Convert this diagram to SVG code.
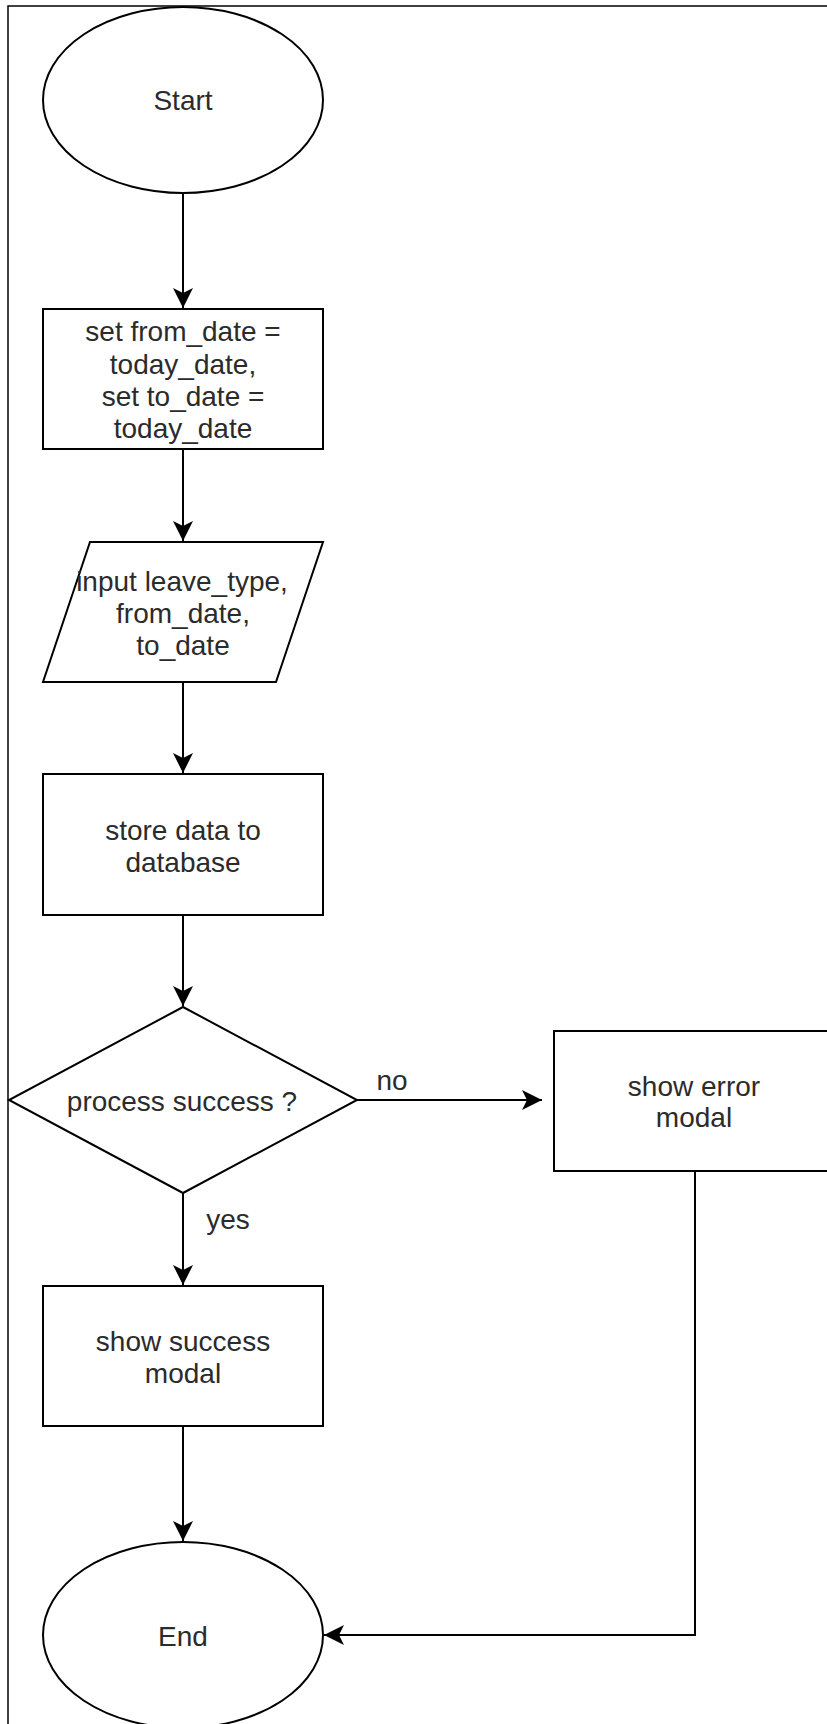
<svg xmlns="http://www.w3.org/2000/svg" width="827" height="1724" viewBox="0 0 827 1724">
  <style>
    .shape { fill: #ffffff; stroke: #000000; stroke-width: 2; }
    .edge { fill: none; stroke: #000000; stroke-width: 2; }
    .label { font-family: "Liberation Sans", Arial, sans-serif; font-size: 28px; fill: #2b2b2b; text-anchor: middle; }
  </style>
  <defs>
    <marker id="arrow" viewBox="0 0 20 20" refX="20" refY="10" markerWidth="20" markerHeight="20" markerUnits="userSpaceOnUse" orient="auto">
      <path d="M0,0 L20,10 L0,20 L5,10 Z" fill="#000000"/>
    </marker>
  </defs>
  <rect width="827" height="1724" fill="#ffffff"/>
  <!-- page frame -->
  <path d="M8,1724 L8,6 L827,6" fill="none" stroke="#000000" stroke-width="1.5"/>

  <g id="connectors">
    <path class="edge" d="M183,193 L183,308" marker-end="url(#arrow)"/>
    <path class="edge" d="M183,449 L183,541" marker-end="url(#arrow)"/>
    <path class="edge" d="M183,682 L183,773" marker-end="url(#arrow)"/>
    <path class="edge" d="M183,915 L183,1006" marker-end="url(#arrow)"/>
    <path class="edge" d="M357,1100 L542,1100" marker-end="url(#arrow)"/>
    <path class="edge" d="M183,1193 L183,1285" marker-end="url(#arrow)"/>
    <path class="edge" d="M183,1426 L183,1541" marker-end="url(#arrow)"/>
    <path class="edge" d="M695,1171 L695,1635 L324,1635" marker-end="url(#arrow)"/>
    <text class="label" x="392" y="1090">no</text>
    <text class="label" x="228" y="1229">yes</text>
  </g>

  <g id="start">
    <ellipse class="shape" cx="183" cy="100" rx="140" ry="93"/>
    <text class="label" x="183" y="110">Start</text>
  </g>

  <g id="init-dates">
    <rect class="shape" x="43" y="309" width="280" height="140"/>
    <text class="label" x="183" y="341">set from_date =</text>
    <text class="label" x="183" y="374">today_date,</text>
    <text class="label" x="183" y="406">set to_date =</text>
    <text class="label" x="183" y="438">today_date</text>
  </g>

  <g id="input-leave">
    <polygon class="shape" points="90,542 323,542 276,682 43,682"/>
    <text class="label" x="182" y="591">input leave_type,</text>
    <text class="label" x="183" y="623">from_date,</text>
    <text class="label" x="183" y="655">to_date</text>
  </g>

  <g id="store-data">
    <rect class="shape" x="43" y="774" width="280" height="141"/>
    <text class="label" x="183" y="840">store data to</text>
    <text class="label" x="183" y="872">database</text>
  </g>

  <g id="check-success">
    <polygon class="shape" points="183,1007 357,1100 183,1193 9,1100"/>
    <text class="label" x="182" y="1111">process success ?</text>
  </g>

  <g id="error-modal">
    <rect class="shape" x="554" y="1031" width="280" height="140"/>
    <text class="label" x="694" y="1096">show error</text>
    <text class="label" x="694" y="1127">modal</text>
  </g>

  <g id="success-modal">
    <rect class="shape" x="43" y="1286" width="280" height="140"/>
    <text class="label" x="183" y="1351">show success</text>
    <text class="label" x="183" y="1383">modal</text>
  </g>

  <g id="end">
    <ellipse class="shape" cx="183" cy="1635" rx="140" ry="93"/>
    <text class="label" x="183" y="1646">End</text>
  </g>
</svg>
